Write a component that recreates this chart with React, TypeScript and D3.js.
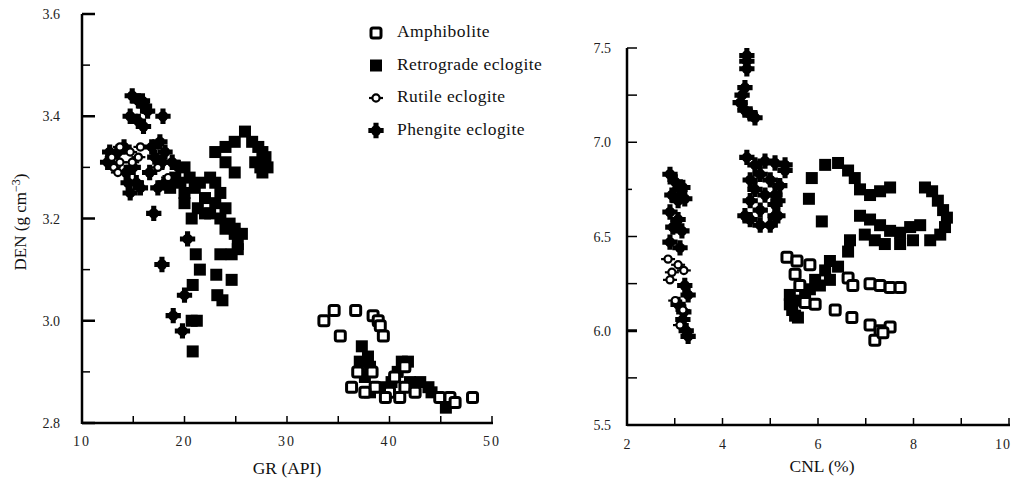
import React from 'react';
import * as d3 from 'd3';

// ---- Left panel: GR (API) vs DEN (g cm-3) ----
const grTicks = [10, 20, 30, 40, 50];
const denTicks = [2.8, 3.0, 3.2, 3.4, 3.6];

const leftAmphibolite: [number, number][] = [
  [33.6, 3.0], [34.6, 3.02], [36.7, 3.02], [38.4, 3.01], [38.9, 3.0], [39.1, 2.99], [39.4, 2.97],
  [35.2, 2.97], [36.9, 2.9], [38.6, 2.87], [40.0, 2.86], [41.5, 2.87], [42.5, 2.86], [36.3, 2.87],
  [37.6, 2.86], [39.6, 2.85], [41.0, 2.85], [41.5, 2.91], [44.9, 2.85], [45.9, 2.85], [46.4, 2.84],
  [48.1, 2.85], [38.3, 2.9], [40.5, 2.89],
];
const leftRetrograde: [number, number][] = [
  [19.1, 3.28], [19.6, 3.27], [18.6, 3.26], [20.0, 3.25], [20.5, 3.28], [21.0, 3.26], [20.0, 3.23],
  [21.3, 3.22], [20.7, 3.2], [22.0, 3.24], [23.0, 3.23], [22.5, 3.21], [23.5, 3.2], [24.0, 3.18],
  [24.9, 3.17], [22.5, 3.28], [23.0, 3.27], [23.5, 3.25], [24.0, 3.22], [24.4, 3.19],
  [20.0, 3.3], [21.5, 3.27], [22.0, 3.21],
  [23.0, 3.33], [24.0, 3.34], [24.9, 3.35], [25.9, 3.37], [26.6, 3.35], [27.2, 3.34], [27.6, 3.33],
  [27.9, 3.32], [26.9, 3.31], [27.4, 3.3], [28.1, 3.3], [27.6, 3.29], [24.0, 3.31], [24.9, 3.29],
  [24.9, 3.18], [25.6, 3.17], [25.2, 3.15], [21.1, 3.13], [23.5, 3.13], [24.6, 3.13], [25.2, 3.14],
  [21.5, 3.1], [23.1, 3.09], [24.6, 3.08], [20.8, 3.07], [23.2, 3.05], [23.7, 3.04], [20.7, 3.0],
  [21.2, 3.0], [20.8, 2.94],
  [37.3, 2.95], [37.9, 2.93], [37.1, 2.92], [38.1, 2.91], [37.6, 2.89], [41.2, 2.92], [40.8, 2.9],
  [39.1, 2.87], [40.2, 2.88], [42.0, 2.88], [43.0, 2.88], [43.8, 2.87], [44.1, 2.86], [45.5, 2.83],
  [38.1, 2.86], [41.8, 2.92],
];
const leftRutile: [number, number][] = [
  [12.9, 3.32], [13.7, 3.31], [13.1, 3.3], [14.9, 3.31], [15.5, 3.32], [13.7, 3.34], [15.7, 3.34],
  [13.5, 3.29], [14.7, 3.33], [17.4, 3.3], [18.4, 3.28],
];
const leftPhengite: [number, number][] = [
  [17.9, 3.4], [17.0, 3.21], [20.3, 3.16], [17.8, 3.11], [20.0, 3.05], [18.9, 3.01], [19.8, 2.98],
  [12.7, 3.33], [12.5, 3.31], [13.5, 3.33], [14.1, 3.34], [15.0, 3.3], [14.3, 3.29], [14.5, 3.27],
  [15.3, 3.27], [14.7, 3.25], [15.7, 3.26], [14.9, 3.44], [15.5, 3.43], [15.9, 3.43], [16.1, 3.42],
  [16.4, 3.41], [14.7, 3.4], [15.5, 3.39], [16.0, 3.38], [16.8, 3.34], [17.6, 3.35], [18.1, 3.33],
  [17.1, 3.32], [17.8, 3.31], [16.6, 3.29], [18.8, 3.31], [19.4, 3.3], [18.1, 3.27], [17.4, 3.26],
];

// ---- Right panel: CNL (%) ----
const cnlTicks = [2, 4, 6, 8, 10];
const rightYTicks = [5.5, 6.0, 6.5, 7.0, 7.5];

const rightAmphibolite: [number, number][] = [
  [5.35, 6.39], [5.56, 6.37], [5.83, 6.35], [5.52, 6.3], [6.63, 6.28], [6.73, 6.24], [7.09, 6.25],
  [7.3, 6.24], [7.51, 6.23], [7.72, 6.23], [5.73, 6.15], [5.94, 6.14], [6.36, 6.11], [6.71, 6.07],
  [7.09, 6.03], [7.3, 6.0], [7.51, 6.02], [7.19, 5.95], [7.36, 5.99], [5.62, 6.24],
];
const rightRetrograde: [number, number][] = [
  [5.87, 6.81], [6.15, 6.88], [6.42, 6.89], [6.63, 6.85], [6.77, 6.81], [5.81, 6.7], [6.08, 6.58],
  [6.88, 6.75], [7.09, 6.72], [7.3, 6.74], [7.51, 6.76],
  [6.88, 6.61], [7.09, 6.59], [7.3, 6.56], [7.51, 6.53], [7.72, 6.52], [7.93, 6.55], [8.14, 6.56],
  [6.98, 6.51], [7.19, 6.48], [7.4, 6.46], [7.72, 6.46], [7.99, 6.48],
  [6.67, 6.48], [6.63, 6.42], [6.25, 6.37], [6.42, 6.34],
  [8.24, 6.76], [8.39, 6.74], [8.51, 6.69], [8.62, 6.64], [8.7, 6.6], [8.66, 6.55], [8.56, 6.51],
  [8.35, 6.48],
  [5.41, 6.19], [5.41, 6.14], [5.52, 6.08], [5.62, 6.16], [5.83, 6.22], [6.04, 6.24], [6.25, 6.27],
  [6.15, 6.32], [5.94, 6.27], [5.73, 6.19], [5.46, 6.11], [5.58, 6.07],
];
const rightRutile: [number, number][] = [
  [2.86, 6.38], [3.07, 6.35], [2.94, 6.31], [3.19, 6.32], [2.9, 6.27], [3.01, 6.16], [3.17, 6.11],
  [3.11, 6.03],
];
const rightPhengite: [number, number][] = [
  [2.9, 6.83], [3.01, 6.79], [3.11, 6.75], [2.94, 6.72], [3.21, 6.7], [3.07, 6.69], [3.17, 6.76],
  [2.9, 6.63], [3.07, 6.59], [2.96, 6.55], [3.15, 6.53], [2.9, 6.47], [3.11, 6.44],
  [3.21, 6.24], [3.28, 6.19], [3.07, 6.14], [3.19, 6.1], [3.17, 6.06], [3.24, 6.0], [3.28, 5.97],
  [4.51, 7.46], [4.51, 7.43], [4.51, 7.39], [4.47, 7.29], [4.41, 7.25], [4.37, 7.21], [4.47, 7.17],
  [4.58, 7.15], [4.68, 7.13],
  [4.51, 6.92], [4.68, 6.88], [4.89, 6.9], [5.1, 6.89], [5.31, 6.88], [4.79, 6.83], [4.58, 6.8],
  [5.0, 6.8], [4.68, 6.75], [4.89, 6.72], [4.58, 6.69], [5.1, 6.72], [4.79, 6.64], [4.58, 6.59],
  [4.79, 6.56], [5.0, 6.56], [5.1, 6.61], [5.1, 6.67], [5.2, 6.77], [5.31, 6.85], [5.16, 6.69],
  [5.16, 6.61], [4.47, 6.61],
];

const legendItems = ['Amphibolite', 'Retrograde eclogite', 'Rutile eclogite', 'Phengite eclogite'];

const FONT = "'Liberation Serif', 'DejaVu Serif', 'Times New Roman', serif";
const crossPath = d3.symbol(d3.symbolCross, 130)() as string;

type Kind = 'amph' | 'retro' | 'rutile' | 'pheng';

function Marker({ kind, x, y }: { kind: Kind; x: number; y: number }) {
  if (kind === 'amph') {
    return <rect x={x - 5} y={y - 5} width={10} height={10} rx={2} fill="#fff" stroke="#000" strokeWidth={3} />;
  }
  if (kind === 'retro') {
    return <rect x={x - 6} y={y - 6} width={12} height={12} fill="#000" />;
  }
  if (kind === 'rutile') {
    return (
      <g>
        <line x1={x - 7} x2={x + 7} y1={y} y2={y} stroke="#000" strokeWidth={2.2} />
        <circle cx={x} cy={y} r={3.6} fill="#fff" stroke="#000" strokeWidth={2.2} />
      </g>
    );
  }
  return (
    <g>
      <circle cx={x} cy={y} r={5.2} fill="#000" />
      <path d={crossPath} transform={`translate(${x},${y})`} fill="#000" />
    </g>
  );
}

function Series({ data, kind, sx, sy }: { data: [number, number][]; kind: Kind; sx: d3.ScaleLinear<number, number>; sy: d3.ScaleLinear<number, number> }) {
  return (
    <g>
      {data.map((d, i) => (
        <Marker key={i} kind={kind} x={sx(d[0])} y={sy(d[1])} />
      ))}
    </g>
  );
}

export default function App() {
  const xL = d3.scaleLinear().domain([10, 50]).range([82, 492]);
  const yL = d3.scaleLinear().domain([2.8, 3.6]).range([423, 14]);
  const xR = d3.scaleLinear().domain([2, 10]).range([627, 1009]);
  const yR = d3.scaleLinear().domain([5.5, 7.5]).range([425, 48]);

  const leftYAll = d3.range(2.8, 3.6001, 0.1);
  const leftXAll = d3.range(10, 50.001, 5);
  const rightYAll = d3.range(5.5, 7.5001, 0.25);
  const rightXAll = d3.range(2, 10.001, 1);

  const kinds: Kind[] = ['amph', 'retro', 'rutile', 'pheng'];

  return (
    <svg width={1012} height={487} style={{ position: 'absolute', left: 0, top: 0, background: '#fff', fontFamily: FONT }}>
      <rect width={1012} height={487} fill="#fff" />

      {/* Left panel axes */}
      <g stroke="#000" fill="none">
        <line x1={xL(10)} x2={xL(10)} y1={yL(3.6)} y2={yL(2.8) + 1} strokeWidth={2.5} />
        <line x1={xL(10)} x2={xL(50) + 1} y1={yL(2.8)} y2={yL(2.8)} strokeWidth={2.5} />
        {leftYAll.map((v, i) => {
          const major = i % 2 === 0;
          return (
            <line key={i} x1={xL(10)} x2={xL(10) + (major ? 13 : 8)} y1={yL(v)} y2={yL(v)} strokeWidth={major ? 2.5 : 1.5} />
          );
        })}
        {leftXAll.map((v, i) => (
          <line key={i} x1={xL(v)} x2={xL(v)} y1={yL(2.8)} y2={yL(2.8) - 7} strokeWidth={1.5} />
        ))}
      </g>
      <g fontSize={14} fill="#222">
        {denTicks.map((v) => (
          <text key={v} x={xL(10) - 22} y={yL(v) + 5} textAnchor="end">{v.toFixed(1)}</text>
        ))}
        {grTicks.map((v) => (
          <text key={v} x={xL(v)} y={446} textAnchor="middle" letterSpacing={2}>{v}</text>
        ))}
      </g>
      <text x={xL(30)} y={474} textAnchor="middle" fontSize={17.5} fill="#111">GR (API)</text>
      <text transform={`translate(26,${222}) rotate(-90)`} textAnchor="middle" fontSize={17} fill="#111">
        DEN (g cm<tspan dy={-6} fontSize={12}>−3</tspan><tspan dy={6}>)</tspan>
      </text>

      {/* Left panel points */}
      <Series data={leftRetrograde} kind="retro" sx={xL} sy={yL} />
      <Series data={leftPhengite} kind="pheng" sx={xL} sy={yL} />
      <Series data={leftAmphibolite} kind="amph" sx={xL} sy={yL} />
      <Series data={leftRutile} kind="rutile" sx={xL} sy={yL} />

      {/* Legend */}
      <g>
        {legendItems.map((name, i) => {
          const cy = 33 + i * 32.5;
          return (
            <g key={name}>
              <Marker kind={kinds[i]} x={376} y={cy} />
              <text x={397} y={cy + 4} fontSize={17.5} letterSpacing={0.4} fill="#111">{name}</text>
            </g>
          );
        })}
      </g>

      {/* Right panel axes */}
      <g stroke="#000" fill="none">
        <line x1={xR(2)} x2={xR(2)} y1={yR(7.5)} y2={yR(5.5) + 1} strokeWidth={2.5} />
        <line x1={xR(2)} x2={xR(10) + 1} y1={yR(5.5)} y2={yR(5.5)} strokeWidth={2.5} />
        {rightYAll.map((v, i) => (
          <line key={i} x1={xR(2)} x2={xR(2) + (i === 5 ? 5 : 10)} y1={yR(v)} y2={yR(v)} strokeWidth={i === 2 ? 3 : 1.5} />
        ))}
        {rightXAll.map((v, i) => (
          <line key={i} x1={xR(v)} x2={xR(v)} y1={yR(5.5)} y2={yR(5.5) - 7} strokeWidth={1.5} />
        ))}
      </g>
      <g fontSize={14} fill="#222">
        {rightYTicks.map((v) => (
          <text key={v} x={xR(2) - 16} y={yR(v) + 5} textAnchor="end">{v.toFixed(1)}</text>
        ))}
        {cnlTicks.map((v) => (
          <text key={v} x={v >= 10 ? xR(v) - 6 : xR(v)} y={449} textAnchor="middle" letterSpacing={v >= 10 ? 1 : 0}>{v}</text>
        ))}
      </g>
      <text x={822} y={472} textAnchor="middle" fontSize={17.5} fill="#111">CNL (%)</text>

      {/* Right panel points */}
      <Series data={rightRetrograde} kind="retro" sx={xR} sy={yR} />
      <Series data={rightPhengite} kind="pheng" sx={xR} sy={yR} />
      <Series data={rightAmphibolite} kind="amph" sx={xR} sy={yR} />
      <Series data={rightRutile} kind="rutile" sx={xR} sy={yR} />
    </svg>
  );
}
